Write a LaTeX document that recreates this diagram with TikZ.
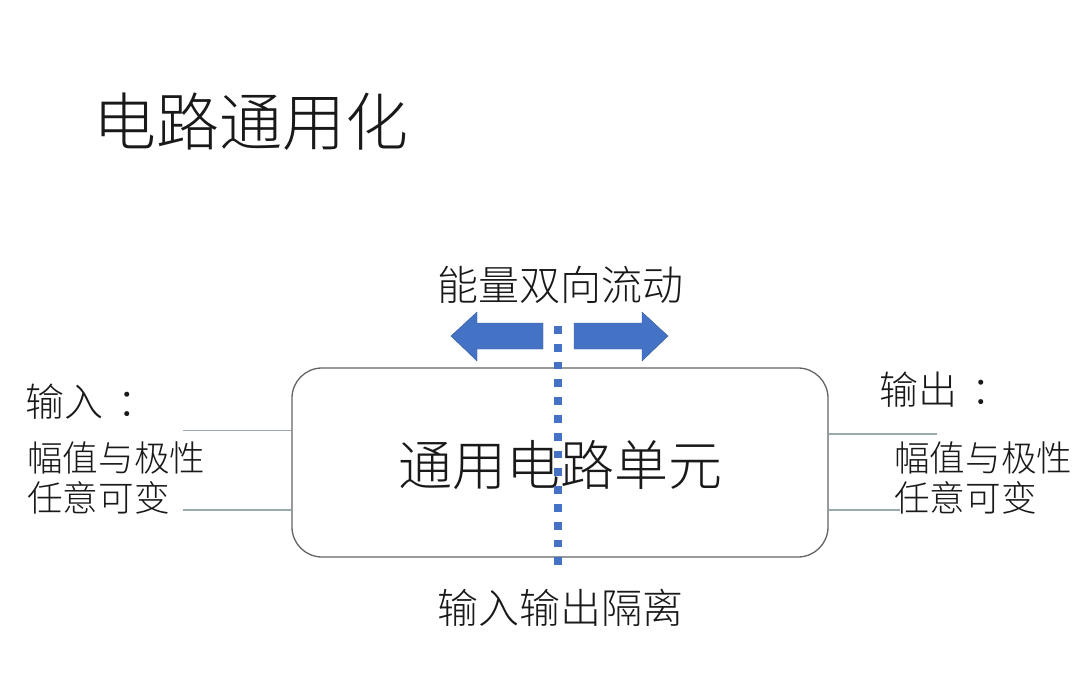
\documentclass[tikz,border=0pt]{standalone}
\usepackage{fontspec}
\setmainfont{Noto Sans CJK SC}[UprightFont={* Light}]
\definecolor{arrowblue}{RGB}{68,114,196}
\definecolor{boxgray}{RGB}{100,100,100}
\definecolor{linegray}{RGB}{150,170,175}
\begin{document}
\begin{tikzpicture}[x=1pt,y=-1pt,
  lbl/.style={inner sep=0pt, text=black!90},
  wire/.style={draw=linegray, line width=1.2pt},
  barrow/.style={fill=arrowblue, draw=arrowblue!80!black, line width=0.4pt}]
\useasboundingbox (0,0) rectangle (1080,674);
% title
\node[lbl, anchor=west, font=\fontsize{63}{70}\selectfont] (title) at (93,122) {电路通用化};
% main box
\node[draw=boxgray, line width=1.3pt, rounded corners=30pt, minimum width=536pt, minimum height=189pt, inner sep=0pt] (box) at (560,462.5) {};
\node[lbl, font=\fontsize{54}{60}\selectfont] (boxtext) at (560,465) {通用电路单元};
% top / bottom labels
\node[lbl, font=\fontsize{41}{48}\selectfont] (flow) at (560,285) {能量双向流动};
\node[lbl, font=\fontsize{41}{48}\selectfont] (iso) at (560,608) {输入输出隔离};
% dotted isolation line
\coordinate (dtop) at (558,326);
\coordinate (dbot) at (558,566);
\draw[arrowblue, line width=7.5pt, dash pattern=on 7.8pt off 10pt] (dtop) -- (dbot);
% arrows
\path[barrow] (543,323) -- (477,323) -- (477,312) -- (451,336) -- (477,361) -- (477,349) -- (543,349) -- cycle;
\path[barrow] (574,323) -- (642,323) -- (642,312) -- (668,336) -- (642,361) -- (642,349) -- (574,349) -- cycle;
% left labels
\node[lbl, anchor=west, font=\fontsize{39}{44}\selectfont] (inlbl) at (25,402) {输入\hspace{14pt}：};
\node[lbl, anchor=west, font=\fontsize{35.6}{40}\selectfont] (inl1) at (27,458) {幅值与极性};
\node[lbl, anchor=west, font=\fontsize{35.6}{40}\selectfont] (inl2) at (27,498) {任意可变};
% right labels
\node[lbl, anchor=west, font=\fontsize{39}{44}\selectfont] (outlbl) at (879,390) {输出\hspace{14pt}：};
\node[lbl, anchor=west, font=\fontsize{35.6}{40}\selectfont] (outl1) at (894,458) {幅值与极性};
\node[lbl, anchor=west, font=\fontsize{35.6}{40}\selectfont] (outl2) at (894,498) {任意可变};
% wires
\coordinate (lw1) at (183,430.5);
\coordinate (lw2) at (183,510);
\coordinate (rw1) at (937,434);
\coordinate (rw2) at (900,510);
\draw[wire] (lw1) -- (box.west |- lw1);
\draw[wire] (lw2) -- (box.west |- lw2);
\draw[wire] (box.east |- rw1) -- (rw1);
\draw[wire] (box.east |- rw2) -- (rw2);
\end{tikzpicture}
\end{document}
